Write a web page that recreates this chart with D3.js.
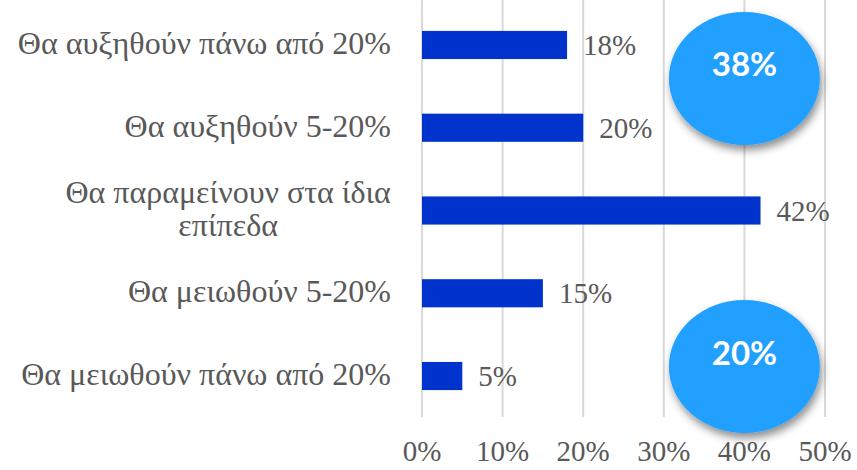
<!DOCTYPE html>
<html><head><meta charset="utf-8">
<script src="https://cdn.jsdelivr.net/npm/d3@7"></script>
<style>body{margin:0;background:#fff}</style>
</head><body>
<script>
const categories = [
  ["Θα αυξηθούν πάνω από 20%"],
  ["Θα αυξηθούν 5-20%"],
  ["Θα παραμείνουν στα ίδια", "επίπεδα"],
  ["Θα μειωθούν 5-20%"],
  ["Θα μειωθούν πάνω από 20%"]
];
const values = [0.18, 0.20, 0.42, 0.15, 0.05];
const valueLabels = ["18%", "20%", "42%", "15%", "5%"];
const ticks = [0, 0.1, 0.2, 0.3, 0.4, 0.5];
const tickLabels = ["0%", "10%", "20%", "30%", "40%", "50%"];
const bubbleLabels = ["38%", "20%"];
const bubbleRows = [0.405, 3.885]; // position in row-index units

const W = 857, H = 470;
const serif = "'Liberation Serif', 'Times New Roman', serif";
const svg = d3.select("body").append("svg").attr("width", W).attr("height", H);
const defs = svg.append("defs");
const f = defs.append("filter").attr("id","sh").attr("x","-30%").attr("y","-30%").attr("width","160%").attr("height","170%");
f.append("feDropShadow").attr("dx",2).attr("dy",5).attr("stdDeviation",4).attr("flood-color","#000").attr("flood-opacity",0.45);

const x = d3.scaleLinear().domain([0, 0.5]).range([422, 825]);
const y = d3.scaleBand().domain(d3.range(values.length)).range([3.6, 417.4]).paddingInner(0.66).paddingOuter(0.33);

// gridlines
svg.append("g").selectAll("line").data(ticks).join("line")
  .attr("x1", d => x(d)).attr("x2", d => x(d)).attr("y1", 0).attr("y2", 417)
  .attr("stroke", "#d9d9d9").attr("stroke-width", 2);

// bars
svg.append("g").selectAll("rect").data(values).join("rect")
  .attr("x", x(0)).attr("y", (d,i) => y(i)).attr("width", d => x(d) - x(0)).attr("height", y.bandwidth())
  .attr("fill", "#0033cc");

// value labels
svg.append("g").selectAll("text").data(values).join("text")
  .attr("x", d => x(d) + 16).attr("y", (d,i) => y(i) + y.bandwidth()/2 + 10)
  .attr("font-family", serif).attr("font-size", 29).attr("fill", "#595959")
  .text((d,i) => valueLabels[i]);

// category labels
const cat = svg.append("g").selectAll("text").data(categories).join("text")
  .attr("font-family", serif).attr("font-size", 32).attr("fill", "#595959")
  .attr("text-anchor", "middle");
cat.each(function(lines, i) {
  const t = d3.select(this);
  const cy = y(i) + y.bandwidth()/2;
  const lh = 33;
  const y0 = cy + 9 - (lines.length - 1) * lh / 2;
  lines.forEach((l, k) => t.append("tspan").attr("x", 0).attr("y", y0 + k*lh).text(l));
  const bb = this.getBBox();
  t.selectAll("tspan").attr("x", 391 - bb.width/2);
});

// axis tick labels
svg.append("g").selectAll("text").data(ticks).join("text")
  .attr("x", d => x(d)).attr("y", 461).attr("text-anchor", "middle")
  .attr("font-family", serif).attr("font-size", 29).attr("fill", "#595959")
  .text((d,i) => tickLabels[i]);

// bubbles
const yRow = d3.scaleLinear().domain([0, values.length - 1]).range([y(0) + y.bandwidth()/2, y(values.length-1) + y.bandwidth()/2]);
const bub = svg.append("g").selectAll("g").data(bubbleLabels).join("g")
  .attr("transform", (d,i) => `translate(${x(0.4)},${yRow(bubbleRows[i])})`);
bub.append("ellipse").attr("rx", 75.5).attr("ry", 66.5).attr("fill", "#21a0ff").attr("filter", "url(#sh)");
bub.append("text").attr("text-anchor", "middle").attr("y", -2)
  .attr("font-family", "Lato, 'Open Sans', sans-serif").attr("font-weight", "bold").attr("font-size", 33)
  .attr("fill", "#fff").text(d => d);
</script>
</body></html>
